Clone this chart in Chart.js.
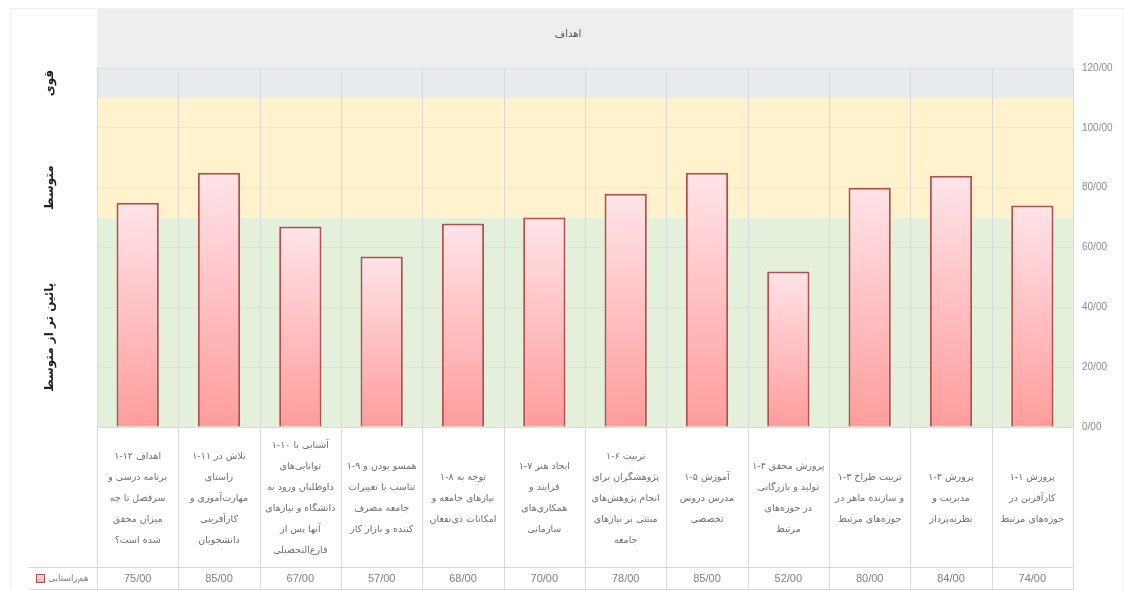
<!DOCTYPE html>
<html>
<head>
<meta charset="utf-8">
<script src="https://cdn.jsdelivr.net/npm/chart.js@4.4.1/dist/chart.umd.min.js"></script>
<style>
    body { margin: 0; background: #fff; }
    #wrap { width: 1124px; height: 590px; }
</style>
</head>
<body>
<div id="wrap"><canvas id="chart" width="1124" height="590"></canvas></div>
<script>
// categories, first one sits at the right (rtl chart)
const categories = [
    ['۱-۱ پرورش', 'کارآفرین در', 'حوزه‌های مرتبط'],
    ['۱-۲ پرورش', 'مدیریت و', 'نظریه‌پرداز'],
    ['۱-۳ تربیت طراح', 'و سازنده ماهر در', 'حوزه‌های مرتبط'],
    ['۱-۴ پرورش محقق', 'تولید و بازرگانی', 'در حوزه‌های', 'مرتبط'],
    ['۱-۵ آموزش', 'مدرس دروس', 'تخصصی'],
    ['۱-۶ تربیت', 'پژوهشگران برای', 'انجام پژوهش‌های', 'مبتنی بر نیازهای', 'جامعه'],
    ['۱-۷ ایجاد هنر', 'فرایند و', 'همکاری‌های', 'سازمانی'],
    ['۱-۸ توجه به', 'نیازهای جامعه و', 'امکانات ذی‌نفعان'],
    ['۱-۹ همسو بودن و', 'تناسب با تغییرات', 'جامعه مصرف', 'کننده و بازار کار'],
    ['۱-۱۰ آشنایی با', 'توانایی‌های', 'داوطلبان ورود به', 'دانشگاه و نیازهای', 'آنها پس از', 'فارغ‌التحصیلی'],
    ['۱-۱۱ تلاش در', 'راستای', 'مهارت‌آموزی و', 'کارآفرینی', 'دانشجویان'],
    ['۱-۱۲ اهداف', 'برنامه درسی و', 'سرفصل تا چه', 'میزان محقق', 'شده است؟']
];
const alignment = [74, 84, 80, 52, 85, 78, 70, 68, 57, 67, 85, 75];
const seriesName = 'هم‌راستایی';
const chartTitle = 'اهداف';

// level bands on the value axis
const levels = ['پائین تر از متوسط', 'متوسط', 'قوی'];
const bandLimits = [0, 70, 110, 120];
const yTicks = [0, 20, 40, 60, 80, 100, 120];

const bandColors = ['#E5F0DC', '#FFF2CC', '#E8ECEF'];
const levelLabelAt = [30, 80, 115];
const lineColor = '#D9D9D9';
const persianFont = 'DejaVu Sans';

function fmt(v) {
    return v + '/00';
}

function barGradient(c, top, bottom) {
    const g = c.createLinearGradient(0, top, 0, bottom);
    g.addColorStop(0, '#FFE4E9');
    g.addColorStop(1, '#FF9C9C');
    return g;
}

const sheetPlugin = {
    id: 'sheet',
    beforeDraw(chart) {
        const { ctx, chartArea, scales } = chart;
        const y = scales.y;
        ctx.save();
        // header strip
        ctx.fillStyle = '#EEEEEE';
        ctx.fillRect(chartArea.left, 9, chartArea.right - chartArea.left, chartArea.top - 9);
        ctx.fillStyle = '#555';
        ctx.font = '10px "' + persianFont + '"';
        ctx.textAlign = 'center';
        ctx.textBaseline = 'middle';
        ctx.fillText(chartTitle, 568, 34);

        // level bands
        for (let i = 0; i < levels.length; i++) {
            const top = y.getPixelForValue(bandLimits[i + 1]);
            const bottom = y.getPixelForValue(bandLimits[i]);
            ctx.fillStyle = bandColors[i];
            ctx.fillRect(chartArea.left, top, chartArea.right - chartArea.left, bottom - top);
        }
        ctx.restore();
    },
    afterDraw(chart) {
        const { ctx, chartArea, scales } = chart;
        const x = scales.x;
        const y = scales.y;
        const tableBottom = chart.height;
        const valueRowTop = tableBottom - 23;
        ctx.save();
        ctx.strokeStyle = lineColor;
        ctx.lineWidth = 1;

        // column separators through plot and table
        ctx.beginPath();
        for (let i = 0; i <= categories.length; i++) {
            const px = Math.round(x.getPixelForValue(i - 0.5)) + 0.5;
            ctx.moveTo(px, chartArea.top);
            ctx.lineTo(px, tableBottom);
        }
        // table rows
        ctx.moveTo(chartArea.left, chartArea.bottom + 0.5);
        ctx.lineTo(chartArea.right, chartArea.bottom + 0.5);
        ctx.moveTo(28, valueRowTop + 0.5);
        ctx.lineTo(chartArea.right, valueRowTop + 0.5);
        ctx.moveTo(28, tableBottom - 0.5);
        ctx.lineTo(chartArea.right, tableBottom - 0.5);
        ctx.stroke();

        // outer frame
        ctx.strokeStyle = '#F0F0F0';
        ctx.strokeRect(10.5, 8.5, chart.width - 11, chart.height - 8);

        // value row
        ctx.fillStyle = '#7F7F7F';
        ctx.font = '11px "Liberation Sans"';
        ctx.textAlign = 'center';
        ctx.textBaseline = 'middle';
        const rowMid = valueRowTop + 12;
        alignment.forEach((v, i) => {
            ctx.fillText(fmt(v), x.getPixelForValue(i), rowMid);
        });

        // legend key in the value row
        ctx.fillStyle = barGradient(ctx, rowMid - 4, rowMid + 4);
        ctx.fillRect(36, rowMid - 5, 8, 8);
        ctx.strokeStyle = '#B0514E';
        ctx.strokeRect(36.5, rowMid - 4.5, 8, 8);
        ctx.fillStyle = '#7F7F7F';
        ctx.font = '9px "' + persianFont + '"';
        ctx.textAlign = 'left';
        ctx.fillText(seriesName, 48, rowMid);

        // level names, rotated
        ctx.fillStyle = '#222';
        ctx.font = 'bold 12px "' + persianFont + '"';
        ctx.textAlign = 'center';
        levels.forEach((name, i) => {
            ctx.save();
            ctx.translate(50, y.getPixelForValue(levelLabelAt[i]));
            ctx.rotate(-Math.PI / 2);
            ctx.fillText(name, 0, 0);
            ctx.restore();
        });
        ctx.restore();
    }
};

const ctx = document.getElementById('chart').getContext('2d');
const chart = new Chart(ctx, {
    type: 'bar',
    data: {
        labels: categories,
        datasets: [{
            label: seriesName,
            data: alignment,
            backgroundColor: (c) => {
                const { chartArea, scales } = c.chart;
                if (!chartArea || c.type !== 'data') {
                    return '#FFC4C8';
                }
                return barGradient(c.chart.ctx, scales.y.getPixelForValue(c.raw), scales.y.getPixelForValue(0));
            },
            borderColor: '#B0514E',
            borderWidth: 2,
            borderSkipped: 'bottom',
            categoryPercentage: 1,
            barPercentage: 0.52,
        }]
    },
    options: {
        responsive: false,
        animation: false,
        devicePixelRatio: 1,
        layout: {
            padding: { left: 97, top: 68, right: 0, bottom: 23 }
        },
        plugins: {
            legend: { display: false },
            tooltip: { enabled: false },
        },
        scales: {
            x: {
                reverse: true,
                grid: { display: false, drawTicks: false },
                border: { display: false },
                ticks: {
                    autoSkip: false,
                    maxRotation: 0,
                    minRotation: 0,
                    crossAlign: 'center',
                    padding: 19,
                    color: '#6E6E6E',
                    font: { family: persianFont, size: 9.5, lineHeight: 2.2 },
                },
                afterFit: (scale) => { scale.height = 140; },
            },
            y: {
                position: 'right',
                min: 0,
                max: 120,
                afterBuildTicks: (scale) => {
                    scale.ticks = yTicks.map(v => ({ value: v }));
                },
                grid: { color: 'rgba(0,0,0,0.045)', drawTicks: false },
                border: { display: false },
                ticks: {
                    padding: 9,
                    color: '#8C8C8C',
                    font: { family: 'Liberation Sans', size: 10 },
                    callback: (v) => fmt(v),
                },
                afterFit: (scale) => { scale.width = 51; },
            }
        }
    },
    plugins: [sheetPlugin]
});
</script>
</body>
</html>
